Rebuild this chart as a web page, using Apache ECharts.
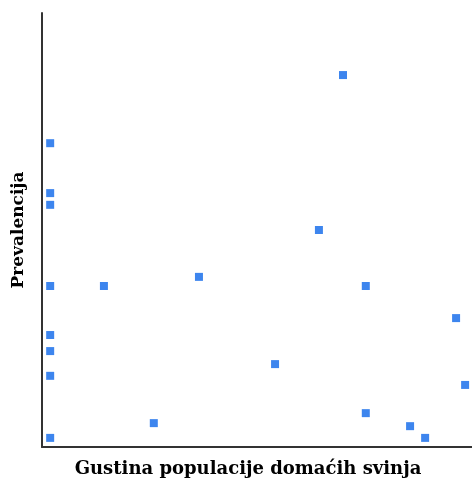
<!DOCTYPE html>
<html><head><meta charset="utf-8">
<script src="https://cdn.jsdelivr.net/npm/echarts@6/dist/echarts.min.js"></script>
<style>html,body{margin:0;padding:0;background:#fff}#c{width:472px;height:485px}</style>
</head><body><div id="c"></div>
<script>
const xTitle = "Gustina populacije domaćih svinja";
const yTitle = "Prevalencija";
const density = [1.9,1.9,1.9,1.9,1.9,1.9,1.9,1.9,14.4,26.0,36.5,54.2,64.4,70.0,75.3,75.3,85.6,89.1,96.3,98.4];
const prevalence = [70.0,58.5,55.8,37.1,25.8,22.1,16.4,2.1,37.1,5.5,39.2,19.1,50.0,85.7,37.1,7.8,4.8,2.1,29.7,14.3];
const points = density.map((d,i)=>[d, prevalence[i]]);
const chart = echarts.init(document.getElementById('c'));
chart.setOption({
  animation:false,
  grid:{left:42,right:0,top:13,bottom:38},
  xAxis:{type:'value',min:0,max:100,name:xTitle,nameLocation:'middle',nameGap:13,
    nameTextStyle:{fontFamily:'DejaVu Serif',fontWeight:'bold',fontSize:18,color:'#000',verticalAlign:'top',padding:[0,18,0,0]},
    axisLine:{show:true,onZero:false,lineStyle:{color:'#333',width:2}},axisTick:{show:false},axisLabel:{show:false},splitLine:{show:false}},
  yAxis:{type:'value',min:0,max:100,name:yTitle,nameLocation:'middle',nameGap:15,
    nameTextStyle:{fontFamily:'DejaVu Serif',fontWeight:'bold',fontSize:17,color:'#000'},
    axisLine:{show:true,onZero:false,lineStyle:{color:'#333',width:2}},axisTick:{show:false},axisLabel:{show:false},splitLine:{show:false}},
  series:[{type:'scatter',data:points,symbol:'rect',symbolSize:8,itemStyle:{color:'#3d85ee',opacity:1}}]
});
</script></body></html>
